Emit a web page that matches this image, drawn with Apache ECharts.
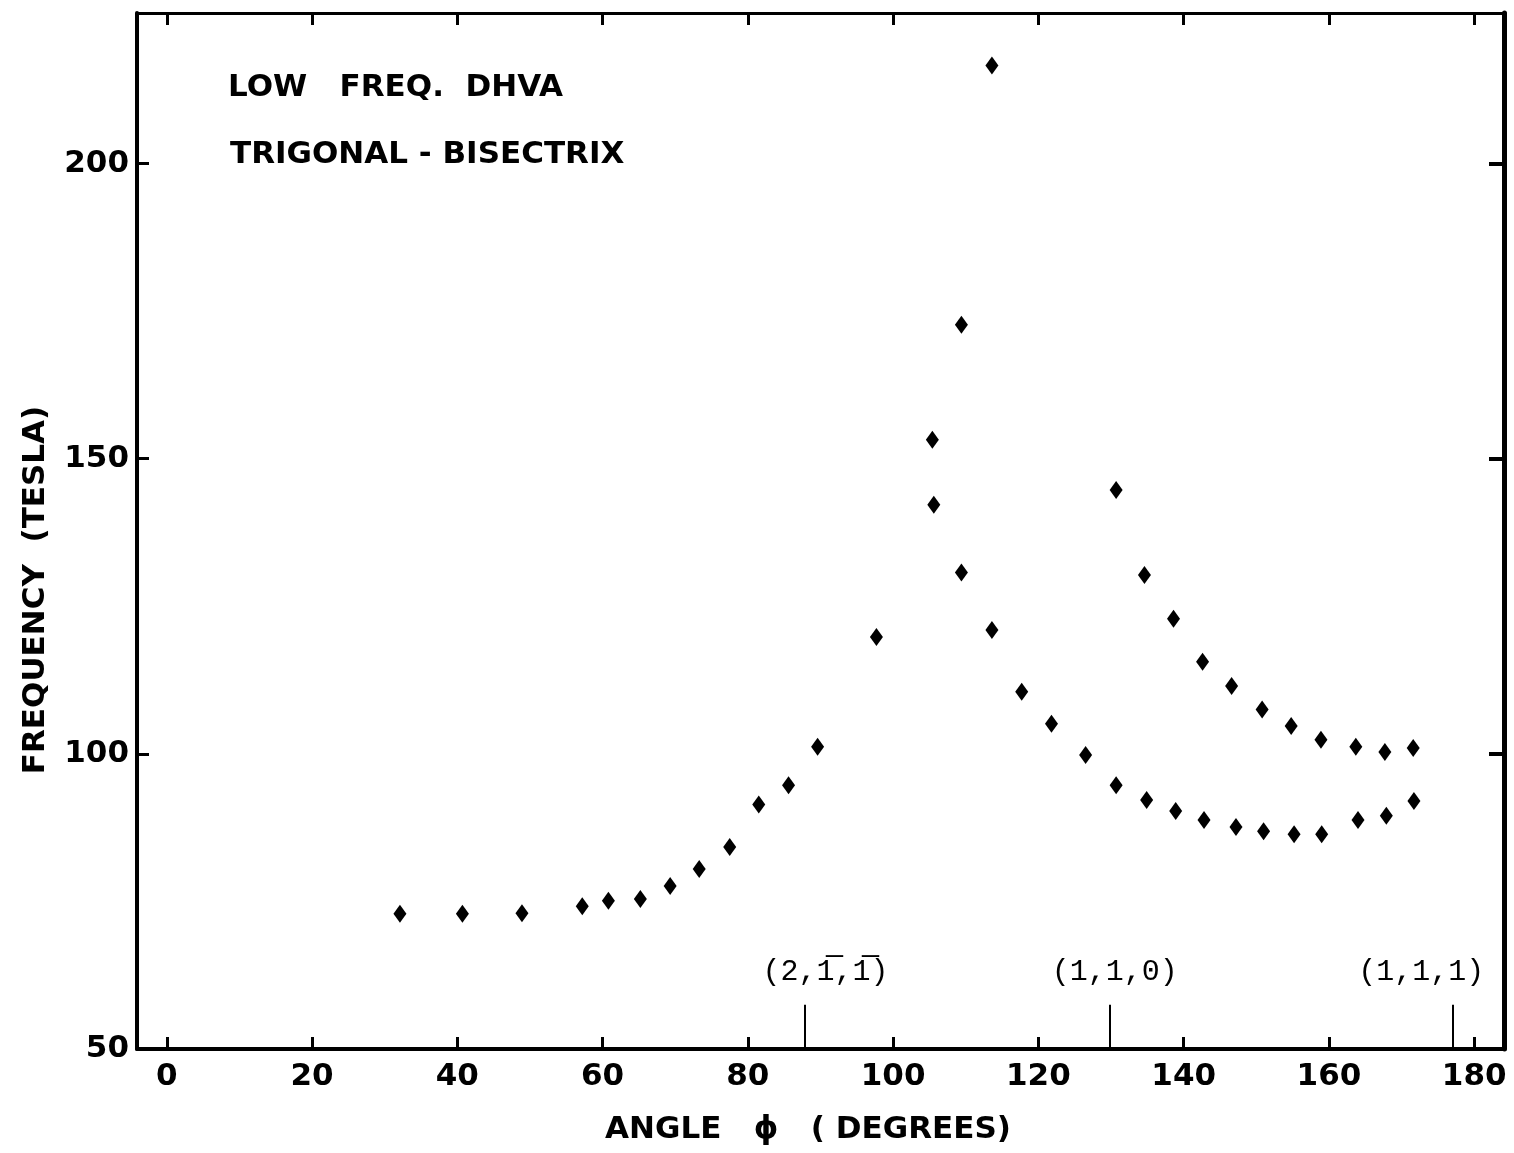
<!DOCTYPE html>
<html>
<head>
<meta charset="utf-8">
<script src="https://cdn.jsdelivr.net/npm/echarts@6/dist/echarts.min.js"></script>
<style>
  html, body { margin: 0; padding: 0; background: #fff; }
  #chart { width: 1514px; height: 1153px; }
</style>
</head>
<body>
<div id="chart"></div>
<script>
// low branch (rises to the peak, then falls and flattens)
var angleLow = [32.1, 40.7, 48.9, 57.2, 60.8, 65.2, 69.3, 73.3, 77.5, 81.5, 85.6, 89.6, 97.7,
  105.6, 109.4, 113.6, 117.7, 121.8, 126.5, 130.7, 134.9, 138.9, 142.8, 147.2, 151.0, 155.2, 159.0, 164.0, 167.9, 171.7]
var freqLow = [72.9, 72.9, 73.0, 74.2, 75.1, 75.4, 77.6, 80.5, 84.2, 91.4, 94.7, 101.2, 119.8,
  142.2, 130.7, 121.0, 110.5, 105.1, 99.8, 94.7, 92.2, 90.3, 88.8, 87.6, 86.9, 86.4, 86.4, 88.8, 89.5, 92.0]

// upper branch
var angleHigh = [105.4, 109.4, 113.6, 130.7, 134.6, 138.6, 142.6, 146.6, 150.8, 154.8, 158.9, 163.7, 167.7, 171.6]
var freqHigh = [153.2, 172.7, 216.6, 144.7, 130.3, 122.9, 115.6, 111.5, 107.5, 104.7, 102.4, 101.2, 100.3, 101.0]

// crystal directions marked on the angle axis
var dirAngles = [87.8, 129.8, 177.0]
var dirLabels = ['(2,1\u0305,1\u0305)', '(1,1,0)', '(1,1,1)']
var dirLabelAngles = [90.7, 130.5, 172.7]

var xTicks = [0, 20, 40, 60, 80, 100, 120, 140, 160, 180]
var yTicks = [50, 100, 150, 200]
var yTicksRight = [100, 150, 200]

var chart = echarts.init(document.getElementById('chart'))

function pairs(xs, ys) {
  return xs.map(function (x, i) { return [x, ys[i]] })
}

var fontMain = '"DejaVu Sans", "Liberation Sans", sans-serif'
var ink = '#000'

var option = {
  backgroundColor: '#fff',
  animation: false,
  grid: { left: 137, right: 10, top: 13, bottom: 104, containLabel: false },
  graphic: [
    {
      type: 'text', left: 228, top: 72,
      style: { text: 'LOW   FREQ.  DHVA', font: 'bold 31px ' + fontMain, fill: ink }
    },
    {
      type: 'text', left: 230, top: 139,
      style: { text: 'TRIGONAL - BISECTRIX', font: 'bold 31px ' + fontMain, fill: ink }
    },
    {
      // y axis title, placed like the hand lettering (a bit below the plot centre)
      type: 'text', x: 36, y: 590, rotation: Math.PI / 2,
      style: { text: 'FREQUENCY  (TESLA)', font: 'bold 31px ' + fontMain, fill: ink, align: 'center', verticalAlign: 'middle' }
    },
    {
      type: 'text', x: 808, y: 1130,
      style: { text: 'ANGLE   \u03d5   ( DEGREES)', font: 'bold 31px ' + fontMain, fill: ink, align: 'center', verticalAlign: 'middle' }
    }
  ],
  xAxis: [
    {
      type: 'value', min: -4.1, max: 184.1, position: 'bottom',
      axisLine: { onZero: false, lineStyle: { color: ink, width: 4 } },
      axisTick: { inside: true, length: 12, lineStyle: { color: ink, width: 3 }, customValues: xTicks },
      axisLabel: { customValues: xTicks, fontSize: 31, fontWeight: 'bold', color: ink, fontFamily: fontMain, margin: 12 },
      splitLine: { show: false }
    },
    {
      type: 'value', min: -4.1, max: 184.1, position: 'top',
      axisLine: { onZero: false, lineStyle: { color: ink, width: 3 } },
      axisTick: { inside: true, length: 12, lineStyle: { color: ink, width: 3 }, customValues: xTicks },
      axisLabel: { show: false },
      splitLine: { show: false }
    }
  ],
  yAxis: [
    {
      type: 'value', min: 50, max: 225.5, position: 'left',
      axisLine: { onZero: false, lineStyle: { color: ink, width: 4 } },
      axisTick: { inside: true, length: 12, lineStyle: { color: ink, width: 3 }, customValues: yTicks },
      axisLabel: { customValues: yTicks, fontSize: 31, fontWeight: 'bold', color: ink, fontFamily: fontMain, margin: 8, padding: [0, 0, 16, 0] },
      splitLine: { show: false }
    },
    {
      type: 'value', min: 50, max: 225.5, position: 'right',
      axisLine: { onZero: false, lineStyle: { color: ink, width: 5 } },
      axisTick: { inside: true, length: 15, lineStyle: { color: ink, width: 4 }, customValues: yTicksRight },
      axisLabel: { show: false },
      splitLine: { show: false }
    }
  ],
  series: [
    {
      name: 'low', type: 'scatter', xAxisIndex: 0, yAxisIndex: 0,
      symbol: 'diamond', symbolSize: [13, 18],
      itemStyle: { color: ink, opacity: 1 },
      data: pairs(angleLow, freqLow),
      markLine: {
        silent: true, symbol: 'none', label: { show: false },
        lineStyle: { color: ink, width: 2, type: 'solid', opacity: 1 },
        data: dirAngles.map(function (a) { return [{ coord: [a, 50] }, { coord: [a, 57.5] }] })
      }
    },
    {
      name: 'high', type: 'scatter', xAxisIndex: 0, yAxisIndex: 0,
      symbol: 'diamond', symbolSize: [13, 18],
      itemStyle: { color: ink, opacity: 1 },
      data: pairs(angleHigh, freqHigh)
    },
    {
      name: 'directions', type: 'scatter', xAxisIndex: 0, yAxisIndex: 0,
      symbolSize: 0, silent: true,
      itemStyle: { opacity: 1 },
      label: {
        show: true, position: 'inside',
        formatter: function (p) { return p.name },
        fontSize: 30, color: ink, fontFamily: '"Liberation Mono", "DejaVu Sans Mono", monospace'
      },
      data: dirLabelAngles.map(function (a, i) { return { name: dirLabels[i], value: [a, 63.05] } })
    }
  ]
}

chart.setOption(option)
</script>
</body>
</html>
